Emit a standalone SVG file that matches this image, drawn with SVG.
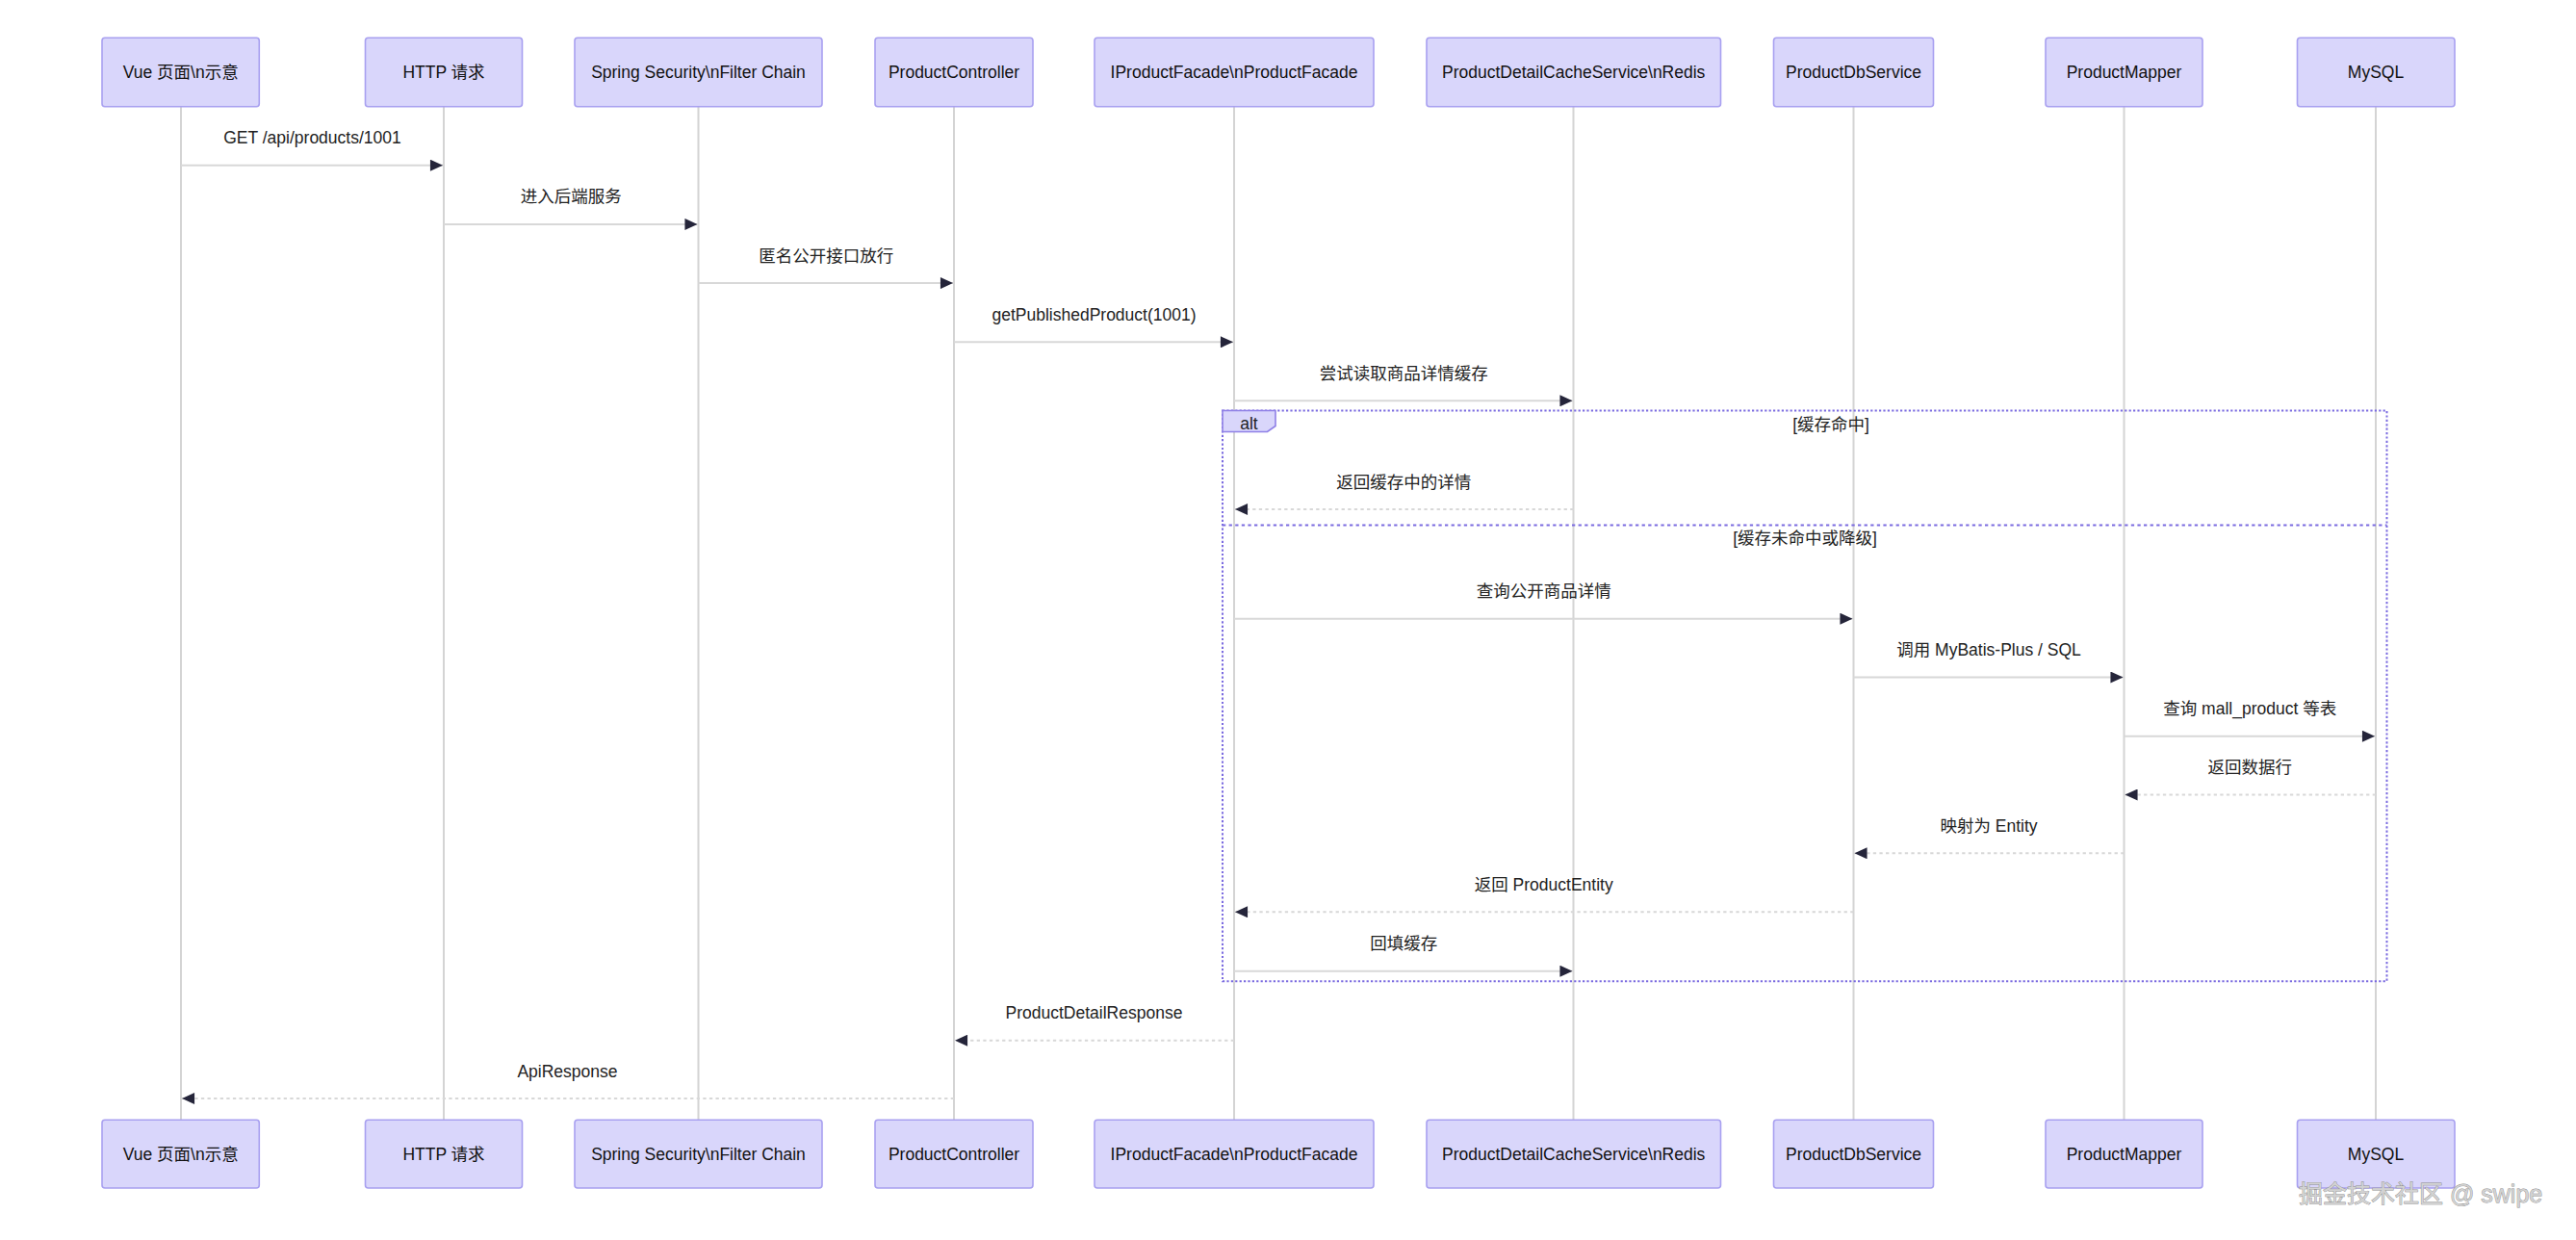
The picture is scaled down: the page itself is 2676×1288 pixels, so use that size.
<svg xmlns="http://www.w3.org/2000/svg" width="2676" height="1288" viewBox="0 0 2676 1288">
<style>
text{font-family:"Liberation Sans","Noto Sans CJK SC",sans-serif;font-size:17.5px;fill:#222;}
.actor{fill:#D9D6FB;stroke:#A8A0F0;stroke-width:1.6;}
.atext{text-anchor:middle;fill:#111;}
.life{stroke:#d4d4d4;stroke-width:2;}
.msg{stroke:#d8d8d8;stroke-width:2;fill:none;marker-end:url(#arrow);}
.dash{stroke-dasharray:3.3,3.3;}
.mtext{text-anchor:middle;}
.frame{fill:none;stroke:#7B6BE0;stroke-width:2;stroke-dasharray:2.2,2.2;}
.divider{stroke:#7B6BE0;stroke-width:2;stroke-dasharray:3.3,3.3;}
.lbox{fill:#D9D6FB;stroke:#8F80E6;stroke-width:1.6;}
.wm{font-size:25px;fill:#d2d2d2;stroke:#8c8c8c;stroke-width:0.8;paint-order:stroke;}
</style>
<defs>
<marker id="arrow" markerUnits="userSpaceOnUse" markerWidth="14" markerHeight="12" viewBox="0 0 12 11" refX="12" refY="5.5" orient="auto">
<path d="M0,0 L12,5.5 L0,11 z" fill="#25253a"/>
</marker>
</defs>
<rect width="2676" height="1288" fill="#ffffff"/>

<g id="lifelines">
<line class="life" x1="188" y1="111" x2="188" y2="1163"/>
<line class="life" x1="461" y1="111" x2="461" y2="1163"/>
<line class="life" x1="725.5" y1="111" x2="725.5" y2="1163"/>
<line class="life" x1="991" y1="111" x2="991" y2="1163"/>
<line class="life" x1="1282" y1="111" x2="1282" y2="1163"/>
<line class="life" x1="1634.5" y1="111" x2="1634.5" y2="1163"/>
<line class="life" x1="1925.5" y1="111" x2="1925.5" y2="1163"/>
<line class="life" x1="2206.5" y1="111" x2="2206.5" y2="1163"/>
<line class="life" x1="2468" y1="111" x2="2468" y2="1163"/>
</g>

<g id="alt-frame">
<rect class="frame" x="1270" y="426.5" width="1209.5" height="592.8"/>
<path class="lbox" d="M1270,426.5 L1325,426.5 L1325,442.5 L1316.5,448.5 L1270,448.5 Z"/>
<text x="1297.5" y="445.5" text-anchor="middle">alt</text>
<text x="1902" y="447" text-anchor="middle">[缓存命中]</text>
<line class="divider" x1="1270" y1="545.5" x2="2479.5" y2="545.5"/>
<text x="1875" y="565" text-anchor="middle">[缓存未命中或降级]</text>
</g>

<g id="vue-top"><rect class="actor" x="106" y="39.3" width="163.3" height="71.4" rx="3"/><text class="atext" x="187.7" y="81">Vue 页面\n示意</text></g>
<g id="http-top"><rect class="actor" x="379.5" y="39.3" width="163" height="71.4" rx="3"/><text class="atext" x="461" y="81">HTTP 请求</text></g>
<g id="spring-top"><rect class="actor" x="597" y="39.3" width="257" height="71.4" rx="3"/><text class="atext" x="725.5" y="81">Spring Security\nFilter Chain</text></g>
<g id="controller-top"><rect class="actor" x="909" y="39.3" width="164" height="71.4" rx="3"/><text class="atext" x="991" y="81">ProductController</text></g>
<g id="facade-top"><rect class="actor" x="1137" y="39.3" width="290" height="71.4" rx="3"/><text class="atext" x="1282" y="81">IProductFacade\nProductFacade</text></g>
<g id="cache-top"><rect class="actor" x="1482" y="39.3" width="305.5" height="71.4" rx="3"/><text class="atext" x="1634.7" y="81">ProductDetailCacheService\nRedis</text></g>
<g id="dbservice-top"><rect class="actor" x="1842.5" y="39.3" width="166" height="71.4" rx="3"/><text class="atext" x="1925.5" y="81">ProductDbService</text></g>
<g id="mapper-top"><rect class="actor" x="2125" y="39.3" width="163" height="71.4" rx="3"/><text class="atext" x="2206.5" y="81">ProductMapper</text></g>
<g id="mysql-top"><rect class="actor" x="2386.5" y="39.3" width="163.5" height="71.4" rx="3"/><text class="atext" x="2468" y="81">MySQL</text></g>

<g id="vue-bottom"><rect class="actor" x="106" y="1163.3" width="163.3" height="70.7" rx="3"/><text class="atext" x="187.7" y="1204.5">Vue 页面\n示意</text></g>
<g id="http-bottom"><rect class="actor" x="379.5" y="1163.3" width="163" height="70.7" rx="3"/><text class="atext" x="461" y="1204.5">HTTP 请求</text></g>
<g id="spring-bottom"><rect class="actor" x="597" y="1163.3" width="257" height="70.7" rx="3"/><text class="atext" x="725.5" y="1204.5">Spring Security\nFilter Chain</text></g>
<g id="controller-bottom"><rect class="actor" x="909" y="1163.3" width="164" height="70.7" rx="3"/><text class="atext" x="991" y="1204.5">ProductController</text></g>
<g id="facade-bottom"><rect class="actor" x="1137" y="1163.3" width="290" height="70.7" rx="3"/><text class="atext" x="1282" y="1204.5">IProductFacade\nProductFacade</text></g>
<g id="cache-bottom"><rect class="actor" x="1482" y="1163.3" width="305.5" height="70.7" rx="3"/><text class="atext" x="1634.7" y="1204.5">ProductDetailCacheService\nRedis</text></g>
<g id="dbservice-bottom"><rect class="actor" x="1842.5" y="1163.3" width="166" height="70.7" rx="3"/><text class="atext" x="1925.5" y="1204.5">ProductDbService</text></g>
<g id="mapper-bottom"><rect class="actor" x="2125" y="1163.3" width="163" height="70.7" rx="3"/><text class="atext" x="2206.5" y="1204.5">ProductMapper</text></g>
<g id="mysql-bottom"><rect class="actor" x="2386.5" y="1163.3" width="163.5" height="70.7" rx="3"/><text class="atext" x="2468" y="1204.5">MySQL</text></g>

<g id="connectors">
<line class="msg" x1="188" y1="171.7" x2="460" y2="171.7"/>
<text class="mtext" x="324.5" y="149.2">GET /api/products/1001</text>
<line class="msg" x1="461" y1="232.9" x2="724.5" y2="232.9"/>
<text class="mtext" x="593.2" y="210.4">进入后端服务</text>
<line class="msg" x1="725.5" y1="294.1" x2="990" y2="294.1"/>
<text class="mtext" x="858.2" y="271.6">匿名公开接口放行</text>
<line class="msg" x1="991" y1="355.3" x2="1281" y2="355.3"/>
<text class="mtext" x="1136.5" y="332.8">getPublishedProduct(1001)</text>
<line class="msg" x1="1282" y1="416.3" x2="1633.5" y2="416.3"/>
<text class="mtext" x="1458.2" y="393.8">尝试读取商品详情缓存</text>
<line class="msg dash" x1="1634.5" y1="529" x2="1283" y2="529"/>
<text class="mtext" x="1458.2" y="506.5">返回缓存中的详情</text>
<line class="msg" x1="1282" y1="642.7" x2="1924.5" y2="642.7"/>
<text class="mtext" x="1603.7" y="620.2">查询公开商品详情</text>
<line class="msg" x1="1925.5" y1="703.5" x2="2205.5" y2="703.5"/>
<text class="mtext" x="2066" y="681">调用 MyBatis-Plus / SQL</text>
<line class="msg" x1="2206.5" y1="764.7" x2="2467" y2="764.7"/>
<text class="mtext" x="2337.2" y="742.2">查询 mall_product 等表</text>
<line class="msg dash" x1="2468" y1="825.5" x2="2207.5" y2="825.5"/>
<text class="mtext" x="2337.2" y="803">返回数据行</text>
<line class="msg dash" x1="2206.5" y1="886.3" x2="1926.5" y2="886.3"/>
<text class="mtext" x="2066" y="863.8">映射为 Entity</text>
<line class="msg dash" x1="1925.5" y1="947.3" x2="1283" y2="947.3"/>
<text class="mtext" x="1603.7" y="924.8">返回 ProductEntity</text>
<line class="msg" x1="1282" y1="1008.7" x2="1633.5" y2="1008.7"/>
<text class="mtext" x="1458.2" y="986.2">回填缓存</text>
<line class="msg dash" x1="1282" y1="1080.7" x2="992" y2="1080.7"/>
<text class="mtext" x="1136.5" y="1058.2">ProductDetailResponse</text>
<line class="msg dash" x1="991" y1="1141" x2="189" y2="1141"/>
<text class="mtext" x="589.5" y="1118.5">ApiResponse</text>
</g>

<text class="wm" x="2388" y="1248.5">掘金技术社区 @ swipe</text>
</svg>
